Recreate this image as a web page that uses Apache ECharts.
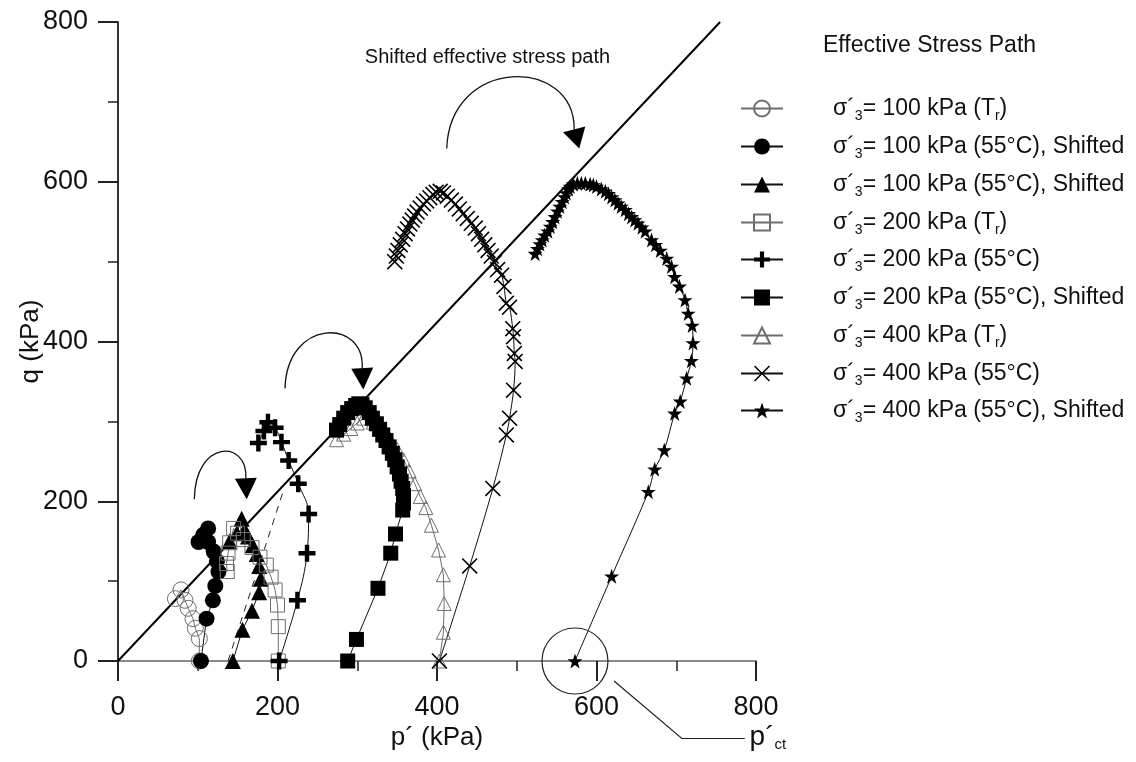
<!DOCTYPE html>
<html>
<head>
<meta charset="utf-8">
<script src="https://cdn.jsdelivr.net/npm/echarts@6/dist/echarts.min.js"></script>
<style>
  html, body { margin: 0; padding: 0; background: #fff; }
  #chart { width: 1136px; height: 762px; }
</style>
</head>
<body>
<div id="chart"></div>
<script>
// ---- Data: effective stress paths, [p' (kPa), q (kPa)] ----
const pAxisTicks = { min: 0, max: 800, step: 200 };
const qAxisTicks = { min: 0, max: 800, step: 200 };

const path100Tr = [[102,0],[102,28],[97,41],[94,53],[88,66],[84,76],[79,89],[72,78]];
const path100HotShiftedA = [[104,0],[111,53],[119,76],[122,94],[126,112],[124,125],[120,137],[113,149],[101,149],[107,158],[113,166]];
const path100HotShiftedB = [[144,0],[156,39],[168,63],[177,86],[179,103],[177,119],[174,134],[169,145],[163,156],[159,164],[155,178],[149,160],[140,150]];
const path200Tr = [[201,0],[201,43],[200,70],[197,89],[192,105],[186,120],[178,130],[168,142],[157,152],[150,160],[145,166],[140,148],[138,135],[136,122],[137,112]];
const path200Hot = [[202,0],[225,76],[237,135],[239,184],[226,222],[214,251],[205,274],[197,292],[188,299],[183,288],[176,273]];
const path200HotShifted = [[288,0],[299,27],[326,91],[342,135],[348,159],[357,189],[358,198],[358,207],[357,216],[355,225],[353,234],[350,243],[347,252],[344,260],[340,268],[336,276],[332,283],[328,290],[324,297],[319,304],[315,311],[310,317],[306,321],[302,322],[298,320],[293,316],[288,311],[283,304],[278,296],[274,289]];
const path400Tr = [[403,0],[408,36],[409,72],[408,108],[402,139],[393,170],[386,192],[379,206],[372,222],[365,238],[358,252],[350,265],[341,278],[331,290],[320,299],[308,304],[300,298],[292,291],[283,284],[274,277]];
const path400Hot = [[403,0],[441,119],[470,216],[487,283],[491,304],[496,339],[498,375],[497,385],[496,406],[495,416],[491,443],[487,448],[484,469],[481,483],[476,490],[472,499],[468,507],[464,514],[460,521],[456,528],[452,535],[448,542],[443,548],[438,554],[433,560],[428,566],[423,572],[418,577],[413,582],[408,586],[404,588],[399,587],[395,584],[391,580],[387,576],[383,572],[379,567],[375,562],[372,557],[369,552],[366,547],[363,541],[360,535],[357,528],[354,521],[351,514],[349,507],[347,500]];
const path400HotShifted = [[573,0],[619,106],[665,212],[673,240],[685,264],[698,310],[705,325],[713,354],[719,376],[721,398],[720,420],[715,435],[711,452],[704,469],[698,481],[694,494],[688,504],[680,514],[674,521],[669,527],[661,538],[657,543],[652,548],[648,552],[644,556],[640,560],[636,565],[631,569],[627,573],[623,577],[619,581],[615,585],[611,588],[606,591],[600,594],[596,596],[592,597],[586,598],[581,598],[576,598],[571,597],[567,594],[565,591],[562,586],[560,581],[557,575],[554,569],[551,563],[548,556],[545,550],[542,544],[539,538],[535,533],[532,527],[529,522],[526,516],[523,510]];

// Critical state line through the origin
const cslLine = [[0,0],[755,800]];
// Dashed guide beside the 100 kPa shifted path
const dashedGuide = [[138,0],[207,212]];

// Legend entries: [lead, subscript, middle, subscript, tail]
const legendLabels = [
  ['σ´','3','= 100 kPa (T','r',')'],
  ['σ´','3','= 100 kPa (55°C), Shifted','',''],
  ['σ´','3','= 100 kPa (55°C), Shifted','',''],
  ['σ´','3','= 200 kPa (T','r',')'],
  ['σ´','3','= 200 kPa (55°C)','',''],
  ['σ´','3','= 200 kPa (55°C), Shifted','',''],
  ['σ´','3','= 400 kPa (T','r',')'],
  ['σ´','3','= 400 kPa (55°C)','',''],
  ['σ´','3','= 400 kPa (55°C), Shifted','','']
];
const legendTitle = 'Effective Stress Path';
const arrowCaption = 'Shifted effective stress path';

// ---- Symbols ----
const SYM_PLUS = 'path://M3.7,0H6.3V3.7H10V6.3H6.3V10H3.7V6.3H0V3.7H3.7Z';
const SYM_X = 'path://M0,0.7L0.7,0L5,4.3L9.3,0L10,0.7L5.7,5L10,9.3L9.3,10L5,5.7L0.7,10L0,9.3L4.3,5Z';
const SYM_STAR = 'path://M50,0L61.8,34.5L97.6,34.5L68.8,55.9L79.4,90.5L50,69.1L20.6,90.5L31.2,55.9L2.4,34.5L38.2,34.5Z';

const FONT = '"Liberation Sans", Arial, Helvetica, sans-serif';
const GREY = '#6e6e6e';

function pathSeries(key, data, opt) {
  return Object.assign({
    name: key,
    type: 'line',
    data: data,
    symbolSize: 16,
    lineStyle: { color: '#111', width: 1 },
    itemStyle: { color: '#000' },
    emphasis: { disabled: true },
    silent: true,
    z: 3
  }, opt);
}

const keys = ['s100Tr','s100HotA','s100HotB','s200Tr','s200Hot','s200HotS','s400Tr','s400Hot','s400HotS'];

const series = [
  {
    name: 'csl', type: 'line', data: cslLine, symbol: 'none', silent: true,
    lineStyle: { color: '#000', width: 2 }, z: 2
  },
  {
    name: 'guide', type: 'line', data: dashedGuide, symbol: 'none', silent: true,
    lineStyle: { color: '#222', width: 1, type: [7, 6] }, z: 2
  },
  pathSeries(keys[0], path100Tr, { symbol: 'circle', symbolSize: 16,
    itemStyle: { color: 'rgba(0,0,0,0)', borderColor: GREY, borderWidth: 1 },
    lineStyle: { color: GREY, width: 1 } }),
  pathSeries(keys[1], path100HotShiftedA, { symbol: 'circle', symbolSize: 16 }),
  pathSeries(keys[2], path100HotShiftedB, { symbol: 'triangle', symbolSize: 16 }),
  pathSeries(keys[3], path200Tr, { symbol: 'rect', symbolSize: 14,
    itemStyle: { color: 'rgba(0,0,0,0)', borderColor: GREY, borderWidth: 1 },
    lineStyle: { color: GREY, width: 1 } }),
  pathSeries(keys[4], path200Hot, { symbol: SYM_PLUS, symbolSize: 17, smooth: 0.4 }),
  pathSeries(keys[5], path200HotShifted, { symbol: 'rect', symbolSize: 15, z: 4 }),
  pathSeries(keys[6], path400Tr, { symbol: 'triangle', symbolSize: 14,
    itemStyle: { color: 'rgba(0,0,0,0)', borderColor: GREY, borderWidth: 1 },
    lineStyle: { color: GREY, width: 1 }, z: 3 }),
  pathSeries(keys[7], path400Hot, { symbol: SYM_X, symbolSize: 16, smooth: 0.3 }),
  pathSeries(keys[8], path400HotShifted, { symbol: SYM_STAR, symbolSize: 15, smooth: 0.3 })
];

function richLabel(parts) {
  let s = '{sp| }{m|' + parts[0] + '}{s|' + parts[1] + '}{m|' + parts[2] + '}';
  if (parts[3]) s += '{s|' + parts[3] + '}';
  if (parts[4]) s += '{m|' + parts[4] + '}';
  return s;
}

const legendRich = {
  sp: { width: 45, fontSize: 10, lineHeight: 30 },
  m: { fontSize: 23, fontFamily: FONT, color: '#111', lineHeight: 30 },
  s: { fontSize: 14, fontFamily: FONT, color: '#111', lineHeight: 14, verticalAlign: 'bottom' }
};

// vertical centres of the legend rows
const legendRowCentres = [107, 145, 183, 221, 258, 296, 334, 372, 409];

const legends = keys.map((k, i) => ({
  data: [k],
  left: 740,
  top: legendRowCentres[i] - 10,
  orient: 'vertical',
  padding: 0,
  itemGap: 0,
  itemWidth: 42,
  itemHeight: 20,
  selectedMode: false,
  formatter: () => richLabel(legendLabels[i]),
  textStyle: { rich: legendRich }
}));

const axisCommon = {
  type: 'value',
  nameLocation: 'middle',
  nameMoveOverlap: false,
  nameTextStyle: { fontSize: 26, color: '#111', fontFamily: FONT },
  axisTick: { show: true, length: 20, lineStyle: { color: '#222', width: 2 } },
  minorTick: { show: true, splitNumber: 2, length: 10, lineStyle: { color: '#222', width: 1.5 } },
  axisLabel: { margin: 30, fontSize: 27, color: '#111', fontFamily: FONT },
  splitLine: { show: false },
  minorSplitLine: { show: false }
};

const chart = echarts.init(document.getElementById('chart'), null, { renderer: 'canvas' });

chart.setOption({
  animation: false,
  backgroundColor: '#fff',
  textStyle: { fontFamily: FONT },
  title: {
    text: legendTitle, left: 823, top: 34, padding: 0,
    textStyle: { fontSize: 23, fontWeight: 'normal', color: '#111', fontFamily: FONT }
  },
  grid: { left: 118, right: 380, top: 22, bottom: 101, outerBoundsMode: 'none', containLabel: false },
  xAxis: Object.assign({}, axisCommon, {
    min: pAxisTicks.min, max: pAxisTicks.max, interval: pAxisTicks.step,
    name: 'p´ (kPa)', nameGap: 64,
    axisLabel: { margin: 33, fontSize: 27, color: '#111', fontFamily: FONT },
    axisLine: { onZero: false, lineStyle: { color: '#8a8a8a', width: 2 } }
  }),
  yAxis: Object.assign({}, axisCommon, {
    min: qAxisTicks.min, max: qAxisTicks.max, interval: qAxisTicks.step,
    name: 'q (kPa)', nameGap: 74, nameRotate: 90,
    axisLine: { onZero: false, lineStyle: { color: '#333', width: 2 } }
  }),
  legend: legends,
  series: series
});

// ---- Annotations, positioned in data units ----
const arrows = [
  { tail: [95.7, 202.4], cp1: [96.6, 277.8], cp2: [163, 277.8], base: [160.3, 228.7], tip: [161.4, 202.4], halfWidth: 11 },
  { tail: [209.4, 341.3], cp1: [211.9, 429.3], cp2: [309.7, 429.3], base: [306.2, 366.7], tip: [307.6, 340], halfWidth: 11 },
  { tail: [412.2, 641.7], cp1: [416.3, 757.2], cp2: [573, 757.2], base: [572, 665.6], tip: [578.4, 641.7], halfWidth: 11.5 }
];
const captionAt = [463.3, 756];
const pctPoint = [573, 0];
const pctLeader = [[622, -25], [707, -97], [786, -97]];
const pctLabelAt = [792, -95];

function toPx(pt) { return chart.convertToPixel({ gridIndex: 0 }, pt); }

const graphics = [];
arrows.forEach(a => {
  const t = toPx(a.tail), c1 = toPx(a.cp1), c2 = toPx(a.cp2), b = toPx(a.base), tp = toPx(a.tip);
  graphics.push({
    type: 'bezierCurve', silent: true, z: 5,
    shape: { x1: t[0], y1: t[1], cpx1: c1[0], cpy1: c1[1], cpx2: c2[0], cpy2: c2[1], x2: b[0], y2: b[1] },
    style: { stroke: '#111', lineWidth: 1.3, fill: null }
  });
  const dx = tp[0] - b[0], dy = tp[1] - b[1], L = Math.hypot(dx, dy);
  const nx = -dy / L, ny = dx / L, hw = a.halfWidth;
  graphics.push({
    type: 'polygon', silent: true, z: 5,
    shape: { points: [[b[0] + nx * hw, b[1] + ny * hw], [tp[0], tp[1]], [b[0] - nx * hw, b[1] - ny * hw]] },
    style: { fill: '#000' }
  });
});

const cap = toPx(captionAt);
graphics.push({
  type: 'text', silent: true, z: 5, x: cap[0], y: cap[1],
  style: { text: arrowCaption, fontSize: 20, fontFamily: FONT, fill: '#111', align: 'center', verticalAlign: 'middle' }
});

const pc = toPx(pctPoint);
graphics.push({
  type: 'circle', silent: true, z: 5,
  shape: { cx: pc[0], cy: pc[1], r: 33 },
  style: { stroke: '#222', lineWidth: 1.2, fill: null }
});
graphics.push({
  type: 'polyline', silent: true, z: 5,
  shape: { points: pctLeader.map(toPx) },
  style: { stroke: '#222', lineWidth: 1.2, fill: null }
});
const pl = toPx(pctLabelAt);
graphics.push({
  type: 'text', silent: true, z: 5, x: pl[0], y: pl[1],
  style: {
    text: '{p|p´}{s|ct}', align: 'left', verticalAlign: 'middle',
    rich: {
      p: { fontSize: 28, fontFamily: FONT, fill: '#111', lineHeight: 30 },
      s: { fontSize: 15, fontFamily: FONT, fill: '#111', lineHeight: 14, verticalAlign: 'bottom' }
    }
  }
});

chart.setOption({ graphic: graphics });
</script>
</body>
</html>
